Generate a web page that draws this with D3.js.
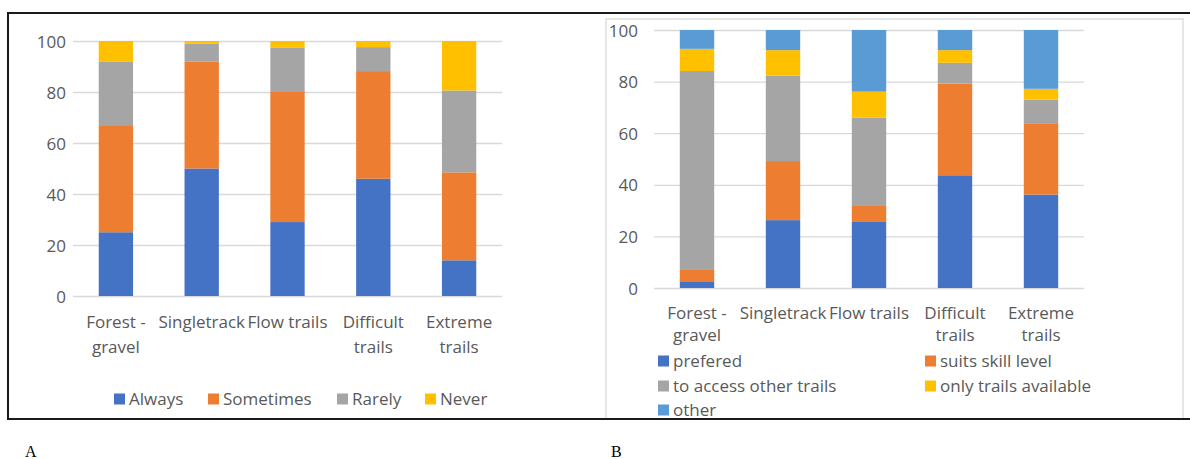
<!DOCTYPE html>
<html>
<head>
<meta charset="utf-8">
<script src="https://cdn.jsdelivr.net/npm/d3@7"></script>
<style>
  html, body { margin: 0; padding: 0; background: #fff; }
  svg { display: block; }
  text { font-family: "Open Sans", sans-serif; }
</style>
</head>
<body>
<svg id="chart" width="1190" height="459"></svg>
<script>
// ---------- data ----------
const categories = ["Forest - gravel", "Singletrack", "Flow trails", "Difficult trails", "Extreme trails"];
const categoryLines = [["Forest -", "gravel"], ["Singletrack"], ["Flow trails"], ["Difficult", "trails"], ["Extreme", "trails"]];
const yTicks = [0, 20, 40, 60, 80, 100];

// Panel A
const seriesA = ["Always", "Sometimes", "Rarely", "Never"];
const always    = [25, 50, 29, 46, 14];
const sometimes = [42, 42, 51, 42.2, 34.5];
const rarely    = [25, 7, 17.5, 9.4, 32.1];
const never     = [8, 1, 2.5, 2.4, 19.4];
const colorsA = ["#4472C4", "#ED7D31", "#A5A5A5", "#FFC000"];

// Panel B
const seriesB = ["prefered", "suits skill level", "to access other trails", "only trails available", "other"];
const prefered   = [2.6, 26.3, 25.6, 43.7, 36.2];
const suitsSkill = [4.4, 22.9, 6.2, 35.5, 27.4];
const toAccess   = [77.1, 33.1, 34.2, 8.1, 9.4];
const onlyTrails = [8.6, 9.9, 10.1, 4.9, 4.2];
const other      = [7.3, 7.8, 23.9, 7.8, 22.8];
const colorsB = ["#4472C4", "#ED7D31", "#A5A5A5", "#FFC000", "#5B9BD5"];

// ---------- drawing ----------
const svg = d3.select("#chart");
const textColor = "#595959";
const gridColor = "#D9D9D9";

function buildRows(seriesNames, valueArrays) {
  return categories.map((c, i) => {
    const row = { cat: c };
    seriesNames.forEach((s, j) => row[s] = valueArrays[j][i]);
    return row;
  });
}

function drawPanel(cfg) {
  const g = svg.append("g");
  const x = d3.scaleBand().domain(categories).range([cfg.x0, cfg.x1]).paddingInner(0.6).paddingOuter(0.3);
  const y = d3.scaleLinear().domain([0, 100]).range([cfg.y0, cfg.y1]);

  // gridlines
  const grid = g.append("g").attr("transform", `translate(${cfg.x0},0)`)
    .call(d3.axisLeft(y).tickValues(yTicks).tickSize(-(cfg.x1 - cfg.x0)).tickFormat(""));
  grid.select(".domain").remove();
  grid.selectAll("line").attr("stroke", gridColor).attr("stroke-width", 1.3);

  // y labels
  const ya = g.append("g").attr("transform", `translate(${cfg.labelX},0)`)
    .call(d3.axisLeft(y).tickValues(yTicks).tickSize(0).tickPadding(0));
  ya.select(".domain").remove();
  ya.selectAll("text").attr("fill", textColor).style("font-size", "17px")
    .style("font-family", "'Open Sans', sans-serif").attr("dy", "0.36em");

  // stacked bars
  const rows = buildRows(cfg.series, cfg.values);
  const stack = d3.stack().keys(cfg.series)(rows);
  g.selectAll("g.layer").data(stack).join("g").attr("class", "layer")
    .attr("fill", (d, i) => cfg.colors[i])
    .selectAll("rect").data(d => d).join("rect")
    .attr("x", d => x(d.data.cat))
    .attr("width", x.bandwidth())
    .attr("y", d => y(d[1]))
    .attr("height", d => Math.max(0, y(d[0]) - y(d[1])));

  // x labels
  const xa = g.append("g").attr("transform", `translate(0,${cfg.catY})`)
    .call(d3.axisBottom(x).tickSize(0).tickPadding(0).tickFormat(""));
  xa.select(".domain").remove();
  xa.selectAll(".tick").each(function(d, i) {
    const t = d3.select(this).append("text")
      .attr("fill", textColor).attr("text-anchor", "middle")
      .style("font-size", cfg.catFont).style("font-family", "'Open Sans', sans-serif");
    categoryLines[i].forEach((ln, k) => {
      t.append("tspan").attr("x", 0).attr("y", k * cfg.lineGap).text(ln);
    });
  });

  // legend
  const leg = g.append("g");
  cfg.series.forEach((s, i) => {
    const p = cfg.legendPos[i];
    leg.append("rect").attr("x", p[0]).attr("y", p[1] - 5.5).attr("width", 11).attr("height", 11)
      .attr("fill", cfg.colors[i]);
    leg.append("text").attr("x", p[0] + 15).attr("y", p[1]).attr("dy", "0.36em")
      .attr("fill", textColor).style("font-size", "17px").text(s);
  });
  return g;
}

// Panel B chart-area border
svg.append("rect").attr("x", 606).attr("y", 19).attr("width", 577).attr("height", 420)
  .attr("fill", "none").attr("stroke", "#D9D9D9").attr("stroke-width", 1.3);

drawPanel({
  x0: 73, x1: 502, y0: 296, y1: 41, labelX: 66, catY: 328, lineGap: 25, catFont: "17px",
  series: seriesA, values: [always, sometimes, rarely, never], colors: colorsA,
  legendPos: [[114, 399], [208, 399], [337, 399], [425, 399]]
});

drawPanel({
  x0: 654, x1: 1084, y0: 288, y1: 30, labelX: 638, catY: 319, lineGap: 22, catFont: "17px",
  series: seriesB, values: [prefered, suitsSkill, toAccess, onlyTrails, other], colors: colorsB,
  legendPos: [[658, 361], [925, 361], [658, 386], [925, 386], [658, 410]]
});

// outer black frame (top, bottom, left)
svg.append("rect").attr("x", 0).attr("y", 419).attr("width", 1190).attr("height", 40).attr("fill", "#fff");
svg.append("line").attr("x1", 7).attr("x2", 1190).attr("y1", 13).attr("y2", 13).attr("stroke", "#1a1a1a").attr("stroke-width", 2);
svg.append("line").attr("x1", 7).attr("x2", 1190).attr("y1", 419).attr("y2", 419).attr("stroke", "#1a1a1a").attr("stroke-width", 2);
svg.append("line").attr("x1", 8).attr("x2", 8).attr("y1", 12).attr("y2", 420).attr("stroke", "#1a1a1a").attr("stroke-width", 2);

// panel letters
svg.append("text").attr("x", 25).attr("y", 457).text("A")
  .style("font-family", "'Liberation Serif', 'DejaVu Serif', serif").style("font-size", "16px").attr("fill", "#000");
svg.append("text").attr("x", 611).attr("y", 457).text("B")
  .style("font-family", "'Liberation Serif', 'DejaVu Serif', serif").style("font-size", "16px").attr("fill", "#000");
</script>
</body>
</html>
